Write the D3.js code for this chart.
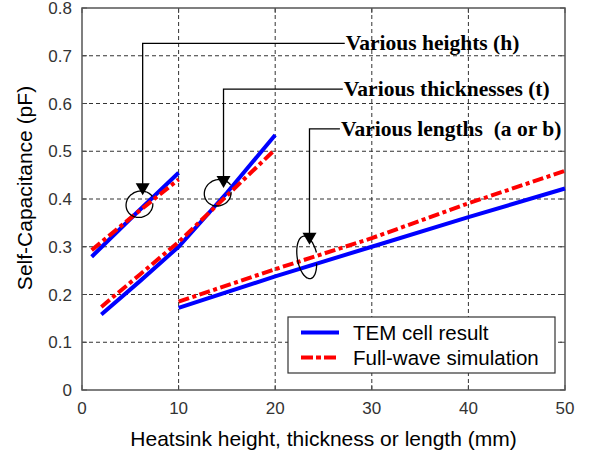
<!DOCTYPE html>
<html lang="en">
<head>
<meta charset="utf-8">
<title>Self-capacitance vs heatsink size</title>
<script src="https://d3js.org/d3.v7.min.js"></script>
<style>
  body { margin: 0; background: #fff; }
  .grid line { stroke: #333; stroke-width: 1; stroke-dasharray: 4,3; }
  .tick-label { font-family: "Liberation Sans", Arial, sans-serif; font-size: 17px; fill: #333; }
  .axis-label { font-family: "Liberation Sans", Arial, sans-serif; font-size: 21px; fill: #000; }
  .note { font-family: "Liberation Serif", "Times New Roman", serif; font-size: 21.5px; font-weight: bold; fill: #000; }
  .legend-text { font-family: "Liberation Sans", Arial, sans-serif; font-size: 20.5px; fill: #000; }
</style>
</head>
<body>
<svg id="chart" width="589" height="457"></svg>
<script>
// data
var xTicks = [0, 10, 20, 30, 40, 50];
var yTicks = [0, 0.1, 0.2, 0.3, 0.4, 0.5, 0.6, 0.7, 0.8];

var heightX   = [1, 5.5, 10];
var heightTem = [0.279, 0.368, 0.455];
var heightFw  = [0.293, 0.368, 0.441];

var thickX   = [2, 6, 10, 15, 20];
var thickTem = [0.158, 0.228, 0.300, 0.413, 0.534];
var thickFw  = [0.174, 0.242, 0.310, 0.407, 0.504];

var lengthX   = [10, 20, 30, 40, 50];
var lengthTem = [0.172, 0.238, 0.300, 0.362, 0.422];
var lengthFw  = [0.185, 0.253, 0.318, 0.391, 0.459];

var seriesNames = ["TEM cell result", "Full-wave simulation"];

// annotation: arrow x, arrow tip y, leader y, text x (data units)
var notes = [
  { text: "Various heights (h)",       ax: 6.28,  tip: 0.408, ly: 0.726, tx: 27.2 },
  { text: "Various thicknesses (t)",   ax: 14.65, tip: 0.423, ly: 0.630, tx: 27.0 },
  { text: "Various lengths\u00a0 (a or b)", ax: 23.55, tip: 0.304, ly: 0.547, tx: 26.7 }
];

var svg = d3.select("#chart"),
    margin = {top: 8, right: 24, bottom: 67, left: 82},
    width = +svg.attr("width") - margin.left - margin.right,
    height = +svg.attr("height") - margin.top - margin.bottom;

var x = d3.scaleLinear().domain([0, 50]).range([0, width]),
    y = d3.scaleLinear().domain([0, 0.8]).range([height, 0]);

var g = svg.append("g")
    .attr("transform", "translate(" + margin.left + "," + margin.top + ")");

// grid
var grid = g.append("g").attr("class", "grid");
grid.selectAll(".gx").data(xTicks.slice(1, -1)).enter().append("line")
    .attr("x1", function(d) { return x(d); }).attr("x2", function(d) { return x(d); })
    .attr("y1", 0).attr("y2", height);
grid.selectAll(".gy").data(yTicks.slice(1, -1)).enter().append("line")
    .attr("y1", function(d) { return y(d); }).attr("y2", function(d) { return y(d); })
    .attr("x1", 0).attr("x2", width);

// inner ticks on all four sides
var tk = g.append("g").attr("stroke", "#444").attr("stroke-width", 1);
xTicks.forEach(function(d) {
  tk.append("line").attr("x1", x(d)).attr("x2", x(d)).attr("y1", height).attr("y2", height - 5);
  tk.append("line").attr("x1", x(d)).attr("x2", x(d)).attr("y1", 0).attr("y2", 5);
});
yTicks.forEach(function(d) {
  tk.append("line").attr("y1", y(d)).attr("y2", y(d)).attr("x1", 0).attr("x2", 5);
  tk.append("line").attr("y1", y(d)).attr("y2", y(d)).attr("x1", width).attr("x2", width - 5);
});

// frame
g.append("rect").attr("width", width).attr("height", height)
    .attr("fill", "none").attr("stroke", "#555").attr("stroke-width", 1.5);

// tick labels
g.selectAll(".xl").data(xTicks).enter().append("text")
    .attr("class", "tick-label").attr("text-anchor", "middle")
    .attr("x", function(d) { return x(d); }).attr("y", height + 24)
    .text(function(d) { return d; });
g.selectAll(".yl").data(yTicks).enter().append("text")
    .attr("class", "tick-label").attr("text-anchor", "end")
    .attr("x", -10).attr("y", function(d) { return y(d) + 6; })
    .text(function(d) { return d === 0 ? "0" : d.toFixed(1); });

// axis titles
svg.append("text").attr("class", "axis-label").attr("text-anchor", "middle")
    .attr("x", margin.left + width / 2).attr("y", 446)
    .text("Heatsink height, thickness or length (mm)");
svg.append("text").attr("class", "axis-label").attr("text-anchor", "middle")
    .attr("transform", "translate(32," + (margin.top + height / 2 - 11) + ") rotate(-90)")
    .text("Self-Capacitance (pF)");

// curves
var line = d3.line()
    .x(function(d) { return x(d[0]); })
    .y(function(d) { return y(d[1]); });

var groups = [
  [heightX, heightTem, heightFw],
  [thickX, thickTem, thickFw],
  [lengthX, lengthTem, lengthFw]
];

groups.forEach(function(s) {
  g.append("path").datum(d3.zip(s[0], s[1]))
      .attr("fill", "none").attr("stroke", "#0000ff").attr("stroke-width", 4)
      .attr("d", line);
  g.append("path").datum(d3.zip(s[0], s[2]))
      .attr("fill", "none").attr("stroke", "#ff0000").attr("stroke-width", 4)
      .attr("stroke-dasharray", "11,3.5,4,3.5")
      .attr("d", line);
});

// annotations
var ann = g.append("g");
notes.forEach(function(n, i) {
  var ax = x(n.ax), ty = y(n.tip), ly = y(n.ly), tx = x(n.tx);
  ann.append("path")
      .attr("d", "M" + tx + "," + ly + "H" + ax + "V" + (ty - 11))
      .attr("fill", "none").attr("stroke", "#000").attr("stroke-width", 1.3);
  ann.append("path")
      .attr("d", "M" + (ax - 7) + "," + (ty - 12) + "L" + (ax + 7) + "," + (ty - 12) + "L" + ax + "," + ty + "Z")
      .attr("fill", "#000");
  ann.append("text").attr("class", "note")
      .attr("x", tx + 1).attr("y", ly + 7)
      .text(n.text);
});

// the little curls round each pair of curves
var curls = [
  { cx: x(6.0),  cy: y(0.388), rx: 13, ry: 12, rot: -25 },
  { cx: x(14.1), cy: y(0.412), rx: 13, ry: 12, rot: -25 },
  { cx: x(23.3), cy: y(0.276), rx: 9,  ry: 20, rot: -10 }
];
curls.forEach(function(c) {
  var pts = d3.range(0, 331, 6).map(function(a) {
    var t = (a + 20) * Math.PI / 180, k = 1 + a / 2200;
    return [c.rx * k * Math.cos(t), c.ry * k * Math.sin(t)];
  });
  ann.append("path")
      .attr("transform", "translate(" + c.cx + "," + c.cy + ") rotate(" + c.rot + ")")
      .attr("d", d3.line().curve(d3.curveCatmullRom)(pts))
      .attr("fill", "none").attr("stroke", "#000").attr("stroke-width", 1.3);
});

// legend
var lg = svg.append("g").attr("transform", "translate(288,317)");
lg.append("rect").attr("width", 267).attr("height", 56)
    .attr("fill", "#fff").attr("stroke", "#333").attr("stroke-width", 1.2);
seriesNames.forEach(function(name, i) {
  var yy = 15.5 + i * 25;
  lg.append("line").attr("x1", 13).attr("x2", 51).attr("y1", yy).attr("y2", yy)
      .attr("stroke", i === 0 ? "#0000ff" : "#ff0000").attr("stroke-width", 4)
      .attr("stroke-dasharray", i === 0 ? null : "12,3,5,3");
  lg.append("text").attr("class", "legend-text")
      .attr("x", 65).attr("y", yy + 7).text(name);
});
</script>
</body>
</html>
